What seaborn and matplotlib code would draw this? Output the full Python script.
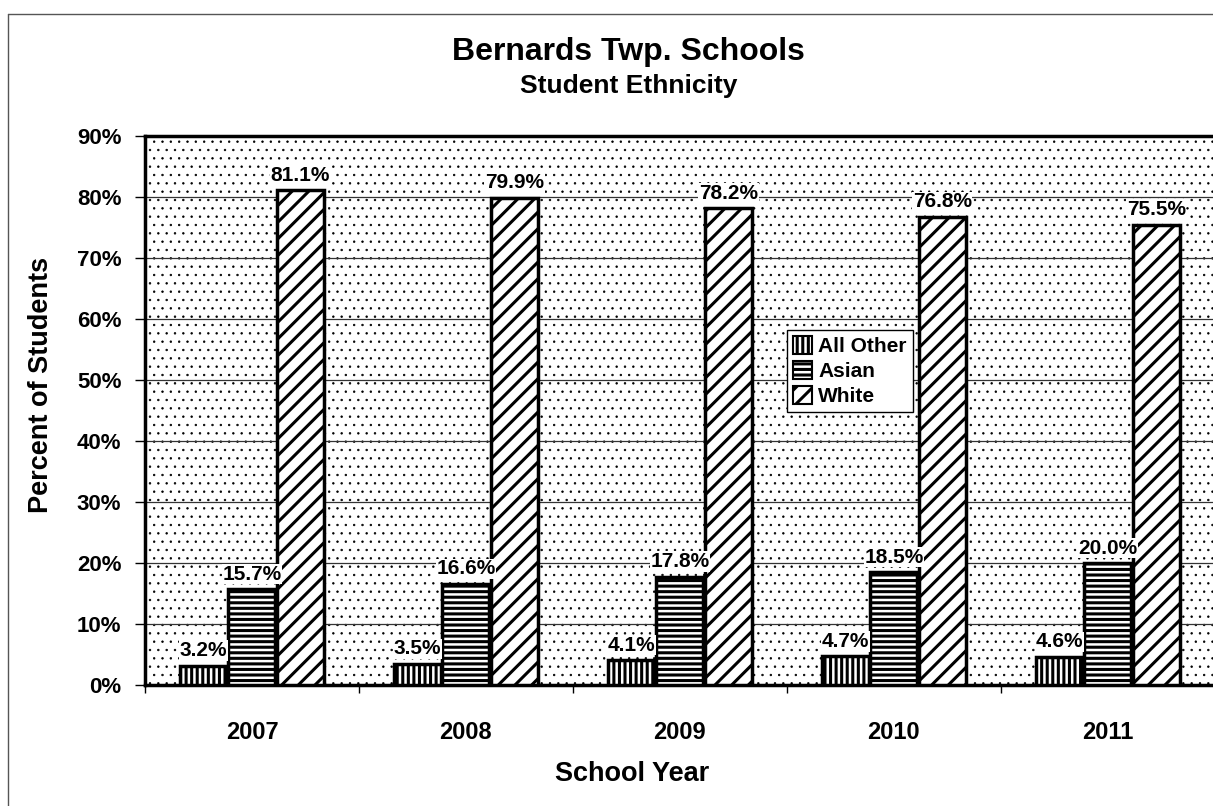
import pandas as pd
import matplotlib.pyplot as plt
import seaborn as sns
from matplotlib.patches import Patch, Rectangle
from matplotlib.lines import Line2D

# data
years = ['2007', '2008', '2009', '2010', '2011']
groups = ['All Other', 'Asian', 'White']
all_other = [3.2, 3.5, 4.1, 4.7, 4.6]
asian = [15.7, 16.6, 17.8, 18.5, 20.0]
white = [81.1, 79.9, 78.2, 76.8, 75.5]
hatches = ['|||', '---', '//']

rows = []
for g, vals in zip(groups, [all_other, asian, white]):
    for y, v in zip(years, vals):
        rows.append({'year': y, 'group': g, 'pct': v})
df = pd.DataFrame(rows)

sns.set_style('white')
plt.rcParams['font.family'] = ['Liberation Sans', 'DejaVu Sans']
plt.rcParams['font.weight'] = 'bold'
plt.rcParams['hatch.linewidth'] = 2.2
for k in ['text.color', 'axes.labelcolor', 'xtick.color', 'ytick.color']:
    plt.rcParams[k] = 'black'

fig = plt.figure(figsize=(12.13, 8.06), dpi=100)
ax = fig.add_axes([0.1195, 0.150, 0.882, 0.681])

# dotted plot-area background
bg = Rectangle((0, 0), 1, 1, transform=ax.transAxes, facecolor='white',
               edgecolor='black', hatch='..', lw=0, zorder=0)
if hasattr(bg, 'set_hatch_linewidth'):
    bg.set_hatch_linewidth(0.5)
ax.add_patch(bg)

sns.barplot(data=df, x='year', y='pct', hue='group', hue_order=groups,
            palette=['white'] * 3, edgecolor='black', linewidth=2.5,
            width=0.68, gap=0.03, legend=False, ax=ax, zorder=3)

for cont, h, vals in zip(ax.containers, hatches, [all_other, asian, white]):
    for bar in cont:
        bar.set_hatch(h)
    txts = ax.bar_label(cont, labels=[f'{v:.1f}%' for v in vals], padding=4,
                        fontsize=15, fontweight='bold', zorder=5)
    for t in txts:
        t.set_bbox(dict(facecolor='white', edgecolor='none', pad=0.5))

ax.set_xlim(-0.5, 4.5)
ax.set_ylim(0, 90)
ax.set_yticks(range(0, 91, 10))
ax.set_yticklabels([f'{v}%' for v in range(0, 91, 10)], fontsize=16, fontweight='bold')
ax.set_xticks(range(5))
ax.set_xticklabels(years, fontsize=17, fontweight='bold')
ax.set_xticks([i - 0.5 for i in range(6)], minor=True)
ax.tick_params(axis='x', which='major', length=0, pad=26)
ax.tick_params(axis='x', which='minor', length=6, width=1, direction='out', bottom=True)
ax.tick_params(axis='y', length=7, width=1, direction='out', left=True, pad=10)

ax.yaxis.grid(True, color='#333333', lw=0.9, zorder=1)
ax.set_axisbelow(True)
for s in ['left', 'bottom', 'top']:
    ax.spines[s].set_linewidth(2.5)
    ax.spines[s].set_color('black')
ax.spines['right'].set_visible(False)

ax.set_xlabel('School Year', fontsize=19.5, fontweight='bold')
ax.set_ylabel('Percent of Students', fontsize=19.5, fontweight='bold')
ax.xaxis.set_label_coords(0.455, -0.139)
ax.yaxis.set_label_coords(-0.085, 0.546)

handles = [Patch(facecolor='white', edgecolor='black', hatch=h, lw=1.5) for h in hatches]
leg = ax.legend(handles, groups, loc='upper left', bbox_to_anchor=(0.6, 0.647),
                prop={'weight': 'bold', 'size': 15}, frameon=True,
                fancybox=False, edgecolor='black', framealpha=1,
                handlelength=0.9, handleheight=0.9, handletextpad=0.3,
                labelspacing=0.25, borderpad=0.3, borderaxespad=0)
leg.get_frame().set_linewidth(1)
leg.set_zorder(6)

fig.text(0.518, 0.935, 'Bernards Twp. Schools', ha='center', va='center',
         fontsize=23, fontweight='bold')
fig.text(0.518, 0.893, 'Student Ethnicity', ha='center', va='center',
         fontsize=19, fontweight='bold')

# outer chart border (left and top visible)
fig.add_artist(Line2D([8 / 1213, 8 / 1213], [0, 1 - 14 / 806], transform=fig.transFigure,
                      color='#555555', lw=1))
fig.add_artist(Line2D([8 / 1213, 1], [1 - 14 / 806, 1 - 14 / 806], transform=fig.transFigure,
                      color='#555555', lw=1))

fig.savefig('out.png', dpi=100)
